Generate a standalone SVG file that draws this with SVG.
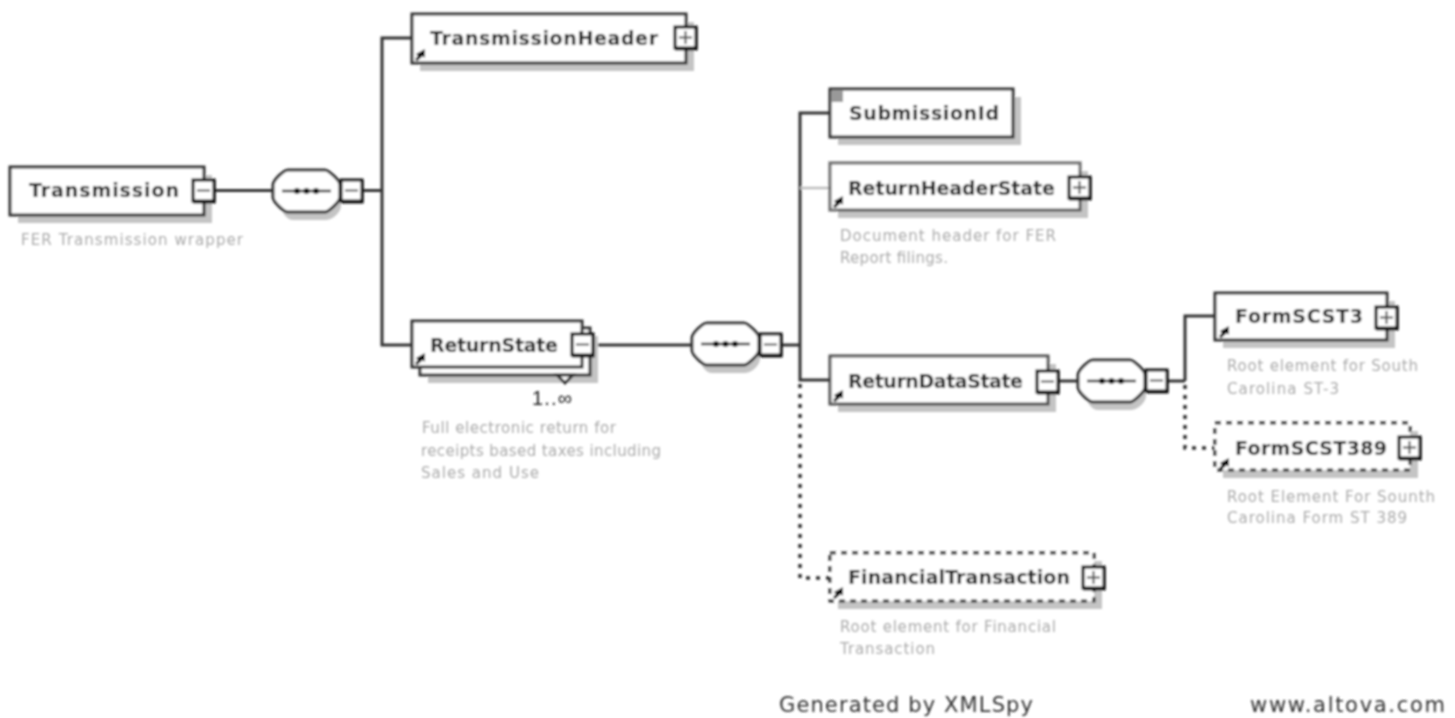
<svg xmlns="http://www.w3.org/2000/svg" width="1455" height="718" viewBox="0 0 1455 718">
<style>
.shadow{fill:#c4c4c4;stroke:none}
.box{fill:#fff;stroke:#333;stroke-width:3}
.dash{fill:#fff;stroke:#333;stroke-width:3;stroke-dasharray:6 5}
.btn{fill:#fff;stroke:#111;stroke-width:3}
.sym{fill:none;stroke:#555;stroke-width:2}
.wire{fill:none;stroke:#333;stroke-width:3}
.dot{fill:none;stroke:#333;stroke-width:3.5;stroke-dasharray:4 6}
.lbl{font:bold 19px "DejaVu Sans",Verdana,sans-serif;fill:#222}
.dsc{font:15px "DejaVu Sans",Verdana,sans-serif;fill:#aaa}
.foot{font:21px "DejaVu Sans",Verdana,sans-serif;fill:#333}
.ln{stroke:#333;stroke-width:2.5;fill:none}
.dt{fill:#111}
</style>
<defs>
<filter id="soft" filterUnits="userSpaceOnUse" x="0" y="0" width="1455" height="718"><feGaussianBlur stdDeviation="0.8"/></filter>
<g id="plus"><path d="M0 0H22.500V23.500H0Z" fill="#111"/><rect class="btn" x="0" y="0" width="21" height="21"/><path class="sym" d="M4 10.500H17M10.500 4V17"/></g>
<g id="minus"><path d="M0 0H22.500V23.500H0Z" fill="#111"/><rect class="btn" x="0" y="0" width="21" height="21"/><path class="sym" d="M4 10.500H17"/></g>
<path id="ref" d="M0 10L3 7L1 5L10 0L10 9L8 7L2 12Z" fill="#111"/>
<g id="seq"><path class="shadow" d="M20 8H52C60 8 68 18 68 24V36C68 42 60 50 52 50H20C14 50 8 42 8 36V24C8 18 14 8 20 8Z"/><path class="box" d="M15 0H52C55 0 67 10 67 15V27C67 32 55 42 52 42H15C11 42 0 32 0 27V15C0 10 11 0 15 0Z"/><path class="ln" d="M9 21H58"/><circle class="dt" cx="24" cy="21" r="3"/><circle class="dt" cx="33.500" cy="21" r="3"/><circle class="dt" cx="43" cy="21" r="3"/></g>
</defs>
<rect width="1455" height="718" fill="#fff"/>
<g filter="url(#soft)">
<g id="connectors">
<path class="wire" d="M215 190.500H273M363 190.500H382M412 38H382V345H412"/>
<path class="wire" d="M594 345H692M782 345H800M830 113H800V380H830"/>
<path d="M800 188H830" fill="none" stroke="#bdbdbd" stroke-width="2.500"/>
<path class="dot" d="M800 384V578H830"/>
<path class="wire" d="M1058 381H1078M1168 381H1185M1215 316H1185V381"/>
<path class="dot" d="M1185 385V448H1215"/>
</g>
<g id="node-transmission"><rect class="shadow" x="18" y="175" width="194" height="48"/><rect class="box" x="10" y="167" width="194" height="48"/><text class="lbl" x="29" y="197" textLength="150">Transmission</text><use href="#minus" x="193" y="180"/><text class="dsc" x="21" y="245" textLength="222">FER Transmission wrapper</text></g>
<g id="seq-1"><use href="#seq" x="273" y="170"/><use href="#minus" x="341" y="180"/></g>
<g id="node-transmissionheader"><rect class="shadow" x="420" y="22" width="274" height="49"/><rect class="box" x="412" y="14" width="274" height="49"/><text class="lbl" x="430" y="45" textLength="228">TransmissionHeader</text><use href="#ref" x="415" y="49"/><use href="#plus" x="675" y="27"/></g>
<g id="node-returnstate"><rect class="shadow" x="428" y="336" width="170" height="47"/><rect class="box" x="420" y="328" width="170" height="47"/><rect class="box" x="412" y="321" width="170" height="46"/><path class="box" d="M557 375L565 383L573 375Z"/><text class="lbl" x="430" y="352" textLength="128">ReturnState</text><use href="#ref" x="415" y="353"/><use href="#minus" x="572" y="334"/><text x="532" y="405" font-family="Liberation Sans,Arial,sans-serif" font-size="20" fill="#222" textLength="40">1..∞</text><text class="dsc"><tspan x="422" y="433" textLength="194">Full electronic return for</tspan><tspan x="421" y="456" textLength="240">receipts based taxes including</tspan><tspan x="421" y="478" textLength="118">Sales and Use</tspan></text></g>
<g id="seq-2"><use href="#seq" x="692" y="323"/><use href="#minus" x="760" y="334"/></g>
<g id="node-submissionid"><rect class="shadow" x="838" y="97" width="183" height="48"/><rect class="box" x="830" y="89" width="183" height="48"/><rect x="832" y="91" width="11" height="11" fill="#999"/><text class="lbl" x="849" y="120" textLength="150">SubmissionId</text></g>
<g id="node-returnheaderstate"><rect class="shadow" x="838" y="171" width="250" height="47"/><rect class="box" x="830" y="163" width="250" height="47" stroke-opacity=".75"/><text class="lbl" x="848" y="195" textLength="207">ReturnHeaderState</text><use href="#ref" x="833" y="196"/><use href="#plus" x="1069" y="177"/><text class="dsc"><tspan x="840" y="241" textLength="216">Document header for FER</tspan><tspan x="840" y="263" textLength="108">Report filings.</tspan></text></g>
<g id="node-returndatastate"><rect class="shadow" x="838" y="364" width="218" height="48"/><rect class="box" x="830" y="356" width="218" height="48" stroke-opacity=".85"/><text class="lbl" x="848" y="388" textLength="175">ReturnDataState</text><use href="#ref" x="833" y="390"/><use href="#minus" x="1037" y="371"/></g>
<g id="seq-3"><use href="#seq" x="1078" y="360"/><use href="#minus" x="1146" y="370"/></g>
<g id="node-formscst3"><rect class="shadow" x="1223" y="301" width="172" height="47"/><rect class="box" x="1215" y="293" width="172" height="47"/><text class="lbl" x="1235" y="323" textLength="128">FormSCST3</text><use href="#ref" x="1219" y="326"/><use href="#plus" x="1376" y="307"/><text class="dsc"><tspan x="1227" y="371" textLength="191">Root element for South</tspan><tspan x="1227" y="394" textLength="112">Carolina ST-3</tspan></text></g>
<g id="node-formscst389"><rect class="shadow" x="1223" y="431" width="195" height="47"/><rect class="dash" x="1215" y="423" width="195" height="47"/><text class="lbl" x="1235" y="455" textLength="152">FormSCST389</text><use href="#ref" x="1219" y="458"/><use href="#plus" x="1399" y="437"/><text class="dsc"><tspan x="1227" y="502" textLength="208">Root Element For Sounth</tspan><tspan x="1227" y="523" textLength="180">Carolina Form ST 389</tspan></text></g>
<g id="node-financialtransaction"><rect class="shadow" x="838" y="561" width="264" height="48"/><rect class="dash" x="830" y="553" width="264" height="48"/><text class="lbl" x="848" y="584" textLength="222">FinancialTransaction</text><use href="#ref" x="833" y="587"/><use href="#plus" x="1083" y="567"/><text class="dsc"><tspan x="840" y="632" textLength="216">Root element for Financial</tspan><tspan x="840" y="654" textLength="95">Transaction</tspan></text></g>
<text class="foot" x="779" y="712" textLength="254">Generated by XMLSpy</text>
<text class="foot" x="1250" y="712" textLength="195">www.altova.com</text>
</g>
</svg>
